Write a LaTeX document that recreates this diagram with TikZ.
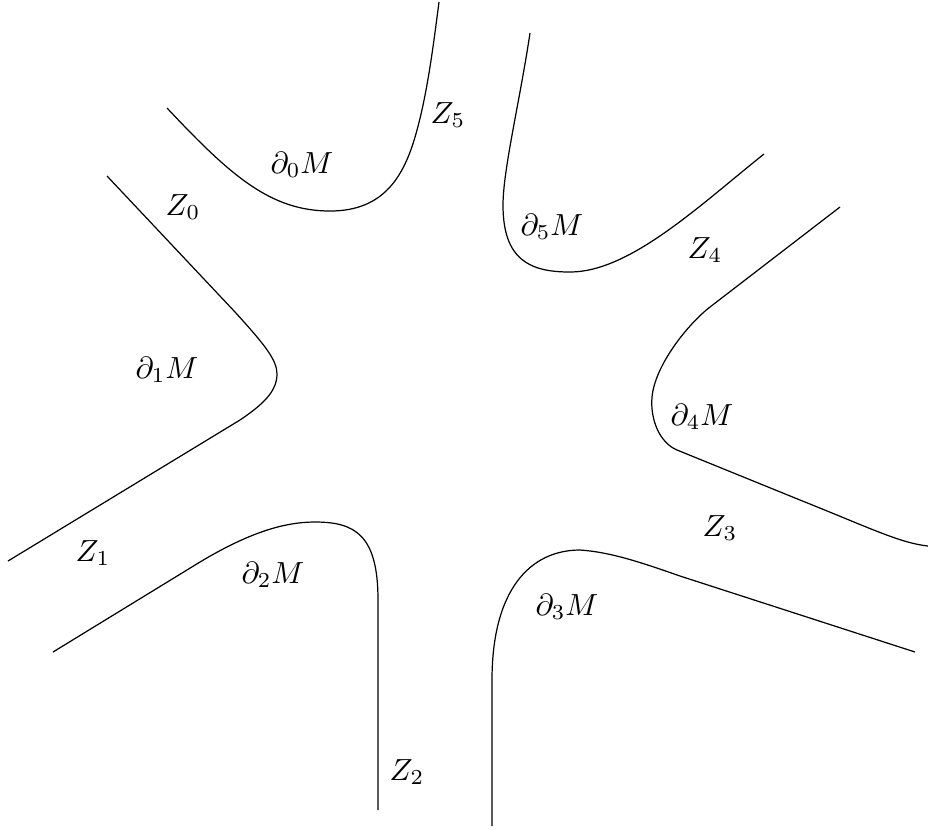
\documentclass[tikz,border=0pt]{standalone}
\usepackage{amsmath, amssymb}
\usepackage{tikz}

\begin{document}
\begin{tikzpicture}[x=0.0115cm,y=-0.0115cm]
\useasboundingbox (0,0) rectangle (928,829);
% boundary pieces, going round the picture
\draw (167,108) .. controls (230,175) and (270,211) .. (330,211)
  .. controls (385,211) and (405,175) .. (417,130)
  .. controls (428,90) and (434,40) .. (439,2);
\draw (530,33) .. controls (520,100) and (503,170) .. (503,205)
  .. controls (503,260) and (530,272) .. (570,272)
  .. controls (630,272) and (700,205) .. (764,154);
\draw (107,176) -- (235,312) .. controls (265,345) and (277,360) .. (277,374)
  .. controls (277,392) and (262,405) .. (240,420) -- (8,561);
\draw (840,207) -- (710,307) .. controls (688,324) and (655,365) .. (652,397)
  .. controls (650,420) and (660,443) .. (677,450) -- (800,500)
  .. controls (870,528) and (900,543) .. (928,546);
\draw (53,652) -- (200,562) .. controls (250,532) and (285,522) .. (315,522)
  .. controls (355,522) and (378,535) .. (378,600) -- (378,810);
\draw (492,826) -- (492,680) .. controls (492,590) and (530,550) .. (580,550)
  .. controls (610,552) and (640,562) .. (680,576) -- (915,652);
% labels
\node (d0) at (302,165) {$\partial_0 M$};
\node (d1) at (167,370) {$\partial_1 M$};
\node (d2) at (273,575) {$\partial_2 M$};
\node (d3) at (567,607) {$\partial_3 M$};
\node (d4) at (702,417) {$\partial_4 M$};
\node (d5) at (552,227) {$\partial_5 M$};
\node (z0) at (183,207) {$Z_0$};
\node (z1) at (93,553) {$Z_1$};
\node (z2) at (407,772) {$Z_2$};
\node (z3) at (720,528) {$Z_3$};
\node (z4) at (705,250) {$Z_4$};
\node (z5) at (448,115) {$Z_5$};
\end{tikzpicture}
\end{document}
